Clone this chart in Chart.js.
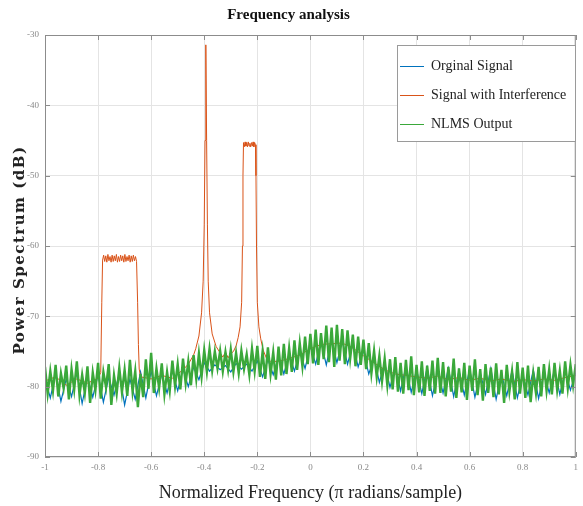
<!DOCTYPE html>
<html>
<head>
<meta charset="utf-8">
<script src="https://cdn.jsdelivr.net/npm/chart.js@4.4.1/dist/chart.umd.min.js"></script>
<style>
  html, body { margin: 0; padding: 0; background: #fff; }
  #wrap { width: 583px; height: 506px; }
</style>
</head>
<body>
<div id="wrap"><canvas id="chart" width="583" height="506"></canvas></div>
<script>
// labels
const chartTitle = 'Frequency analysis';
const xTitle = 'Normalized Frequency (\u03c0 radians/sample)';
const yTitle = 'Power Spectrum (dB)';
const seriesNames = ['Orginal Signal', 'Signal with Interference', 'NLMS Output'];
const seriesColors = ['#0072BD', '#D95319', '#3aa83a'];
const xTicks = [-1, -0.8, -0.6, -0.4, -0.2, 0, 0.2, 0.4, 0.6, 0.8, 1];
const yTicks = [-90, -80, -70, -60, -50, -40, -30];

// NLMS output, read every 0.01 from -1 to 1
const nlmsDb = [
  -77.2, -81.0, -77.8, -80.6, -76.9, -81.4, -78.1, -80.2, -77.0, -81.8,
  -77.5, -80.4, -76.4, -81.2, -78.3, -80.9, -77.1, -82.3, -78.0, -80.5,
  -76.6, -81.7, -77.9, -80.1, -76.8, -82.6, -78.4, -81.0, -77.3, -80.8,
  -77.6, -81.3, -76.2, -80.7, -77.8, -82.9, -78.2, -81.5, -76.1, -80.3,
  -75.2, -80.9, -77.4, -80.2, -76.7, -81.1, -77.9, -80.6, -76.3, -79.9,
  -76.8, -80.4, -76.0, -79.5, -76.4, -79.8, -75.5, -78.9, -75.3, -78.6,
  -74.8, -77.9, -74.6, -77.7, -75.0, -77.4, -74.9, -77.8, -75.1, -77.6,
  -74.7, -77.9, -75.2, -78.1, -74.9, -77.5, -75.4, -78.3, -74.6, -77.8,
  -74.2, -78.6, -75.0, -78.9, -74.4, -78.2, -75.1, -79.0, -74.3, -78.4,
  -73.9, -78.2, -74.5, -77.9, -73.4, -77.6, -73.8, -77.1, -72.9, -76.8,
  -72.5, -76.7, -71.9, -76.9, -72.4, -76.1, -71.3, -76.5, -71.6, -77.2,
  -71.2, -76.3, -71.8, -76.8, -72.0, -76.0, -72.6, -77.1, -72.9, -76.9,
  -73.3, -77.5, -73.8, -78.1, -74.9, -78.6, -75.6, -79.2, -76.0, -79.8,
  -76.1, -80.4, -75.8, -80.7, -76.6, -81.0, -76.2, -80.5, -75.7, -81.2,
  -76.9, -80.8, -76.4, -81.3, -77.0, -80.6, -76.3, -81.0, -75.9, -80.9,
  -76.5, -81.4, -77.2, -80.7, -76.0, -81.6, -77.4, -80.8, -76.6, -81.9,
  -77.0, -80.6, -76.1, -81.2, -77.5, -82.0, -76.8, -80.9, -77.3, -81.5,
  -76.7, -81.1, -77.6, -82.3, -76.9, -80.7, -77.8, -81.8, -76.5, -81.0,
  -77.3, -81.6, -77.0, -82.2, -78.1, -80.9, -77.2, -81.4, -76.8, -80.6,
  -77.5, -81.1, -76.6, -80.5, -77.7, -81.0, -76.4, -80.2, -76.9, -79.8,
  -76.8
];

// original signal, read every 0.02 from -1 to 1
const originalDb = [
  -78.8, -81.6, -78.2, -82.1, -78.9, -81.4, -78.0, -82.4, -78.6, -81.5,
  -78.3, -82.2, -78.7, -81.2, -78.1, -82.6, -78.9, -81.8, -77.9, -81.6,
  -77.8, -81.3, -78.2, -80.9, -77.7, -80.6, -77.5, -80.0, -77.2, -79.0,
  -76.6, -77.8, -76.9, -77.6, -77.0, -77.9, -76.7, -77.5, -76.8, -77.8,
  -76.3, -78.6, -76.1, -78.3, -75.8, -78.2, -75.4, -77.8, -75.0, -77.4,
  -74.2, -76.8, -73.6, -76.9, -73.4, -76.6, -73.5, -76.8, -73.9, -77.2,
  -74.8, -78.2, -75.9, -79.4, -76.6, -80.1, -77.2, -80.6, -77.1, -80.8,
  -77.6, -81.0, -77.3, -81.3, -77.8, -80.9, -77.4, -81.4, -77.7, -81.2,
  -77.5, -81.5, -78.0, -81.1, -77.4, -81.8, -78.1, -81.3, -77.7, -81.6,
  -78.2, -81.2, -77.6, -81.7, -78.0, -80.9, -77.5, -81.1, -77.8, -80.5,
  -78.0
];

// signal with interference (uneven sampling around the tones)
const interfFreq = [
  -1.00, -0.96, -0.92, -0.88, -0.84, -0.80, -0.79, -0.786, -0.783,
  -0.779, -0.775, -0.771, -0.767, -0.763, -0.759, -0.755, -0.751, -0.747,
  -0.743, -0.739, -0.735, -0.731, -0.727, -0.723, -0.719, -0.715, -0.711,
  -0.707, -0.703, -0.699, -0.695, -0.691, -0.687, -0.683, -0.679, -0.675,
  -0.671, -0.667, -0.663, -0.659, -0.655, -0.651,
  -0.648, -0.645, -0.64, -0.60, -0.56, -0.52, -0.48, -0.46,
  -0.44, -0.432, -0.42, -0.41, -0.404, -0.40, -0.397, -0.394, -0.391,
  -0.388, -0.385, -0.38, -0.37, -0.355, -0.34, -0.33, -0.32, -0.31,
  -0.30, -0.29, -0.28, -0.272, -0.265, -0.259, -0.256, -0.254,
  -0.252, -0.249, -0.246, -0.243, -0.240, -0.237, -0.234, -0.231, -0.228,
  -0.225, -0.222, -0.219, -0.216, -0.213, -0.210, -0.207,
  -0.205, -0.203, -0.200, -0.194, -0.187, -0.178, -0.165, -0.15,
  -0.12, -0.08, -0.04, 0.00, 0.04, 0.08, 0.12, 0.16, 0.20, 0.24,
  0.28, 0.32, 0.36, 0.40, 0.44, 0.48, 0.52, 0.56, 0.60, 0.64,
  0.68, 0.72, 0.76, 0.80, 0.84, 0.88, 0.92, 0.96, 1.00
];
const interfDb = [
  -79.2, -78.6, -79.8, -78.9, -79.5, -78.8, -78.0, -68.0, -62.0,
  -61.3, -62.2, -61.4, -62.3, -61.2, -62.1, -61.5, -62.3, -61.3,
  -62.2, -61.4, -62.1, -61.2, -62.3, -61.5, -62.2, -61.3, -62.1,
  -61.4, -62.3, -61.2, -62.2, -61.5, -62.1, -61.3, -62.3, -61.4,
  -62.2, -61.3, -62.1, -61.5, -62.2, -68.0,
  -74.0, -77.5, -78.6, -78.9, -78.4, -78.8, -77.6, -76.8,
  -75.5, -74.6, -72.8, -69.5, -65.0, -57.0, -45.0, -31.4, -45.0,
  -57.0, -65.0, -69.5, -72.5, -74.3, -75.2, -75.8, -75.1, -75.9,
  -75.3, -75.0, -74.2, -73.0, -71.5, -68.0, -60.0, -50.0,
  -45.3, -45.9, -45.2, -45.8, -45.3, -45.9, -45.2, -45.8, -45.4,
  -45.9, -45.3, -45.8, -45.2, -45.9, -45.3, -45.6,
  -50.0, -60.0, -68.0, -71.5, -73.2, -74.8, -76.0, -76.4,
  -76.4, -76.0, -75.5, -74.6, -74.0, -73.9, -73.8, -74.5, -75.6, -76.6,
  -77.6, -78.2, -78.4, -78.6, -78.8, -78.5, -79.0, -78.7, -79.1, -78.8,
  -79.2, -78.9, -79.3, -79.0, -79.2, -78.9, -79.1, -78.7, -78.4
];

function toPoints(xs, ys) {
  return ys.map((y, i) => ({ x: xs[i], y: y }));
}
const nlmsFreq = nlmsDb.map((_, i) => -1 + i * 0.01);
const originalFreq = originalDb.map((_, i) => -1 + i * 0.02);

// frame with inward ticks, like matlab's box
const boxPlugin = {
  id: 'box',
  afterDatasetsDraw(chart) {
    const { ctx, chartArea: a, scales } = chart;
    ctx.save();
    ctx.strokeStyle = '#8c8c8c';
    ctx.lineWidth = 1;
    ctx.strokeRect(a.left + 0.5, a.top + 0.5, a.right - a.left - 1, a.bottom - a.top - 1);
    ctx.beginPath();
    xTicks.forEach(v => {
      const px = Math.round(scales.x.getPixelForValue(v)) + 0.5;
      ctx.moveTo(px, a.bottom); ctx.lineTo(px, a.bottom - 5);
      ctx.moveTo(px, a.top); ctx.lineTo(px, a.top + 5);
    });
    yTicks.forEach(v => {
      const py = Math.round(scales.y.getPixelForValue(v)) + 0.5;
      ctx.moveTo(a.left, py); ctx.lineTo(a.left + 5, py);
      ctx.moveTo(a.right, py); ctx.lineTo(a.right - 5, py);
    });
    ctx.stroke();
    ctx.restore();
  }
};

// legend inside the plot, top right
const legendPlugin = {
  id: 'innerLegend',
  afterDraw(chart) {
    const ctx = chart.ctx;
    ctx.save();
    ctx.fillStyle = '#fff';
    ctx.strokeStyle = '#9a9a9a';
    ctx.lineWidth = 1;
    ctx.fillRect(397.5, 45.5, 178, 96);
    ctx.strokeRect(397.5, 45.5, 178, 96);
    ctx.font = '14px "Liberation Serif"';
    ctx.textBaseline = 'middle';
    seriesNames.forEach((name, i) => {
      const y = 66 + i * 29;
      ctx.strokeStyle = seriesColors[i];
      ctx.beginPath();
      ctx.moveTo(400, y + 0.5); ctx.lineTo(424, y + 0.5);
      ctx.stroke();
      ctx.fillStyle = '#222';
      ctx.fillText(name, 431, y);
    });
    ctx.restore();
  }
};

// rotated y title, spaced out like the original
const yTitlePlugin = {
  id: 'yTitle',
  afterDraw(chart) {
    const { ctx, chartArea: a } = chart;
    ctx.save();
    ctx.translate(20, (a.top + a.bottom) / 2 + 4);
    ctx.rotate(-Math.PI / 2);
    ctx.font = 'bold 15px "DejaVu Serif"';
    ctx.letterSpacing = '1.5px';
    ctx.fillStyle = '#222';
    ctx.textAlign = 'center';
    ctx.textBaseline = 'middle';
    ctx.fillText(yTitle, 0, 0);
    ctx.restore();
  }
};

const ctx = document.getElementById('chart');
new Chart(ctx, {
  type: 'line',
  data: {
    datasets: [
      { label: seriesNames[2], data: toPoints(nlmsFreq, nlmsDb), borderColor: seriesColors[2], borderWidth: 2.4, order: 0 },
      { label: seriesNames[1], data: toPoints(interfFreq, interfDb), borderColor: seriesColors[1], borderWidth: 1, order: 1 },
      { label: seriesNames[0], data: toPoints(originalFreq, originalDb), borderColor: seriesColors[0], borderWidth: 1.2, order: 2 }
    ]
  },
  options: {
    responsive: false,
    animation: false,
    elements: { point: { radius: 0 }, line: { tension: 0 } },
    layout: { padding: { left: 0, right: 6, top: 0, bottom: 0 } },
    plugins: {
      legend: { display: false },
      tooltip: { enabled: false },
      title: {
        display: true,
        text: chartTitle,
        color: '#111',
        font: { family: 'Liberation Serif', size: 15, weight: 'bold', lineHeight: 1.2 },
        padding: { top: 6, bottom: 11 }
      }
    },
    scales: {
      x: {
        type: 'linear',
        min: -1, max: 1,
        afterBuildTicks: s => { s.ticks = xTicks.map(v => ({ value: v })); },
        afterFit: s => { s.height = 49; },
        grid: { color: '#e4e4e4', drawTicks: false },
        border: { display: false },
        ticks: { color: '#888', padding: 5, maxRotation: 0, font: { family: 'Liberation Serif', size: 9 }, callback: v => String(v) },
        title: {
          display: true, text: xTitle, color: '#222',
          font: { family: 'Liberation Serif', size: 18, lineHeight: 1.2 },
          padding: { top: 0, bottom: 2 }
        }
      },
      y: {
        min: -90, max: -30,
        afterBuildTicks: s => { s.ticks = yTicks.map(v => ({ value: v })); },
        afterFit: s => { s.width = 45; },
        grid: { color: '#e4e4e4', drawTicks: false },
        border: { display: false },
        ticks: { color: '#888', padding: 6, font: { family: 'Liberation Serif', size: 9 }, callback: v => String(v) }
      }
    }
  },
  plugins: [boxPlugin, legendPlugin, yTitlePlugin]
});
</script>
</body>
</html>
